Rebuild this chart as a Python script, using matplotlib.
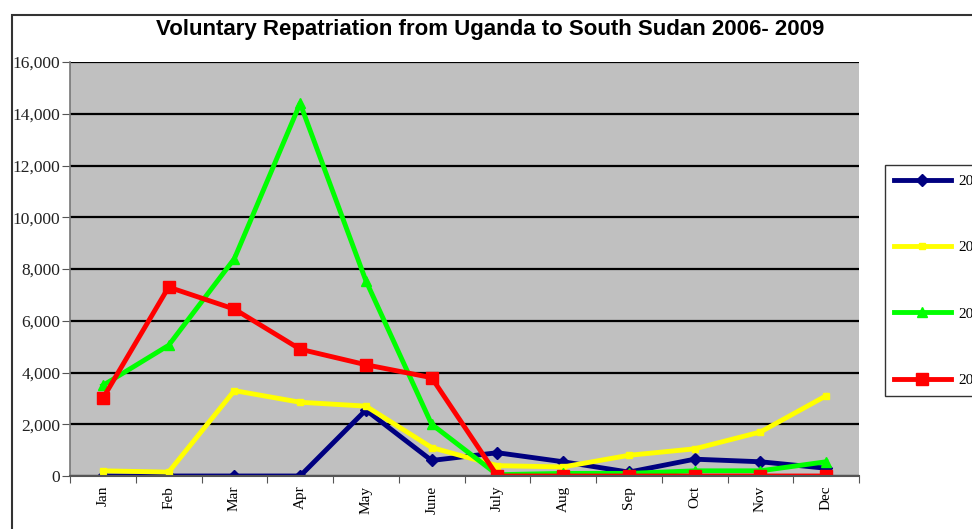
import matplotlib
matplotlib.use("Agg")
import matplotlib.pyplot as plt
from matplotlib.patches import Rectangle

months = ["Jan", "Feb", "Mar", "Apr", "May", "June", "July", "Aug", "Sep", "Oct", "Nov", "Dec"]
years = ["2006", "2007", "2008", "2009"]

v2006 = [0, 0, 0, 0, 2550, 600, 900, 550, 150, 650, 550, 300]
v2007 = [200, 150, 3300, 2850, 2700, 1100, 400, 350, 800, 1050, 1700, 3100]
v2008 = [3500, 5050, 8400, 14400, 7550, 2000, 50, 100, 100, 200, 200, 550]
v2009 = [3000, 7300, 6450, 4900, 4300, 3800, 0, 0, 0, 0, 0, 0]

series = [v2006, v2007, v2008, v2009]
colors = ["#000080", "#FFFF00", "#00FF00", "#FF0000"]
markers = ["D", "s", "^", "s"]
msizes = [6, 4, 7, 8]

W, H = 972, 529
fig = plt.figure(figsize=(W / 100, H / 100), dpi=100)
fig.patch.set_facecolor("white")

# outer chart border (cut off at right/bottom in the reference)
fig.add_artist(Rectangle((12 / W, -0.1), 1.2, 1 - 15 / H + 0.1,
                         transform=fig.transFigure, fill=False,
                         edgecolor="#333333", linewidth=1.5, zorder=10))

ax = fig.add_axes([70 / W, 1 - 476 / H, (859 - 70) / W, (476 - 62) / H])
ax.set_facecolor("#C0C0C0")

x = list(range(len(months)))
for vals, c, m, ms, yr in zip(series, colors, markers, msizes, years):
    ax.plot(x, vals, color=c, linewidth=3.5, marker=m, markersize=ms,
            markerfacecolor=c, markeredgecolor=c, label=yr)

ax.set_ylim(0, 16000)
ax.set_xlim(-0.5, len(months) - 0.5)
ax.set_yticks(range(0, 16001, 2000))
ax.set_yticklabels([f"{v:,}" for v in range(0, 16001, 2000)],
                   family="Liberation Serif", fontsize=12.5, color="#222222")
ax.yaxis.grid(True, color="black", linewidth=1.6)
ax.set_axisbelow(True)

ax.set_xticks([i - 0.5 for i in range(len(months) + 1)])
ax.set_xticklabels([])
ax.set_xticks(x, minor=True)
ax.set_xticklabels(months, minor=True, rotation=90,
                   family="Liberation Serif", fontsize=11)
ax.tick_params(axis="x", which="minor", length=0, pad=7)
ax.tick_params(axis="x", which="major", length=5, color="#555555")
ax.tick_params(axis="y", length=6, color="#555555", pad=1)

for s in ["top", "right"]:
    ax.spines[s].set_visible(False)
ax.spines["left"].set_color("#777777")
ax.spines["bottom"].set_color("#555555")
ax.spines["left"].set_linewidth(1.2)
ax.spines["bottom"].set_linewidth(1.5)

fig.text(490 / W, 1 - 30 / H,
         "Voluntary Repatriation from Uganda to South Sudan 2006- 2009",
         ha="center", va="center", fontsize=16, fontweight="bold",
         family=["Liberation Sans Narrow", "Liberation Sans"])

leg = ax.legend(loc="upper left", bbox_to_anchor=(885 / W, 1 - 165 / H),
                bbox_transform=fig.transFigure, frameon=True, fancybox=False,
                edgecolor="black", labelspacing=3.45, handlelength=3.7,
                borderpad=0.6, handletextpad=0.5, borderaxespad=0,
                prop={"family": "Liberation Serif", "size": 11})
leg.get_frame().set_linewidth(1.0)

fig.savefig("out.png", dpi=100)
